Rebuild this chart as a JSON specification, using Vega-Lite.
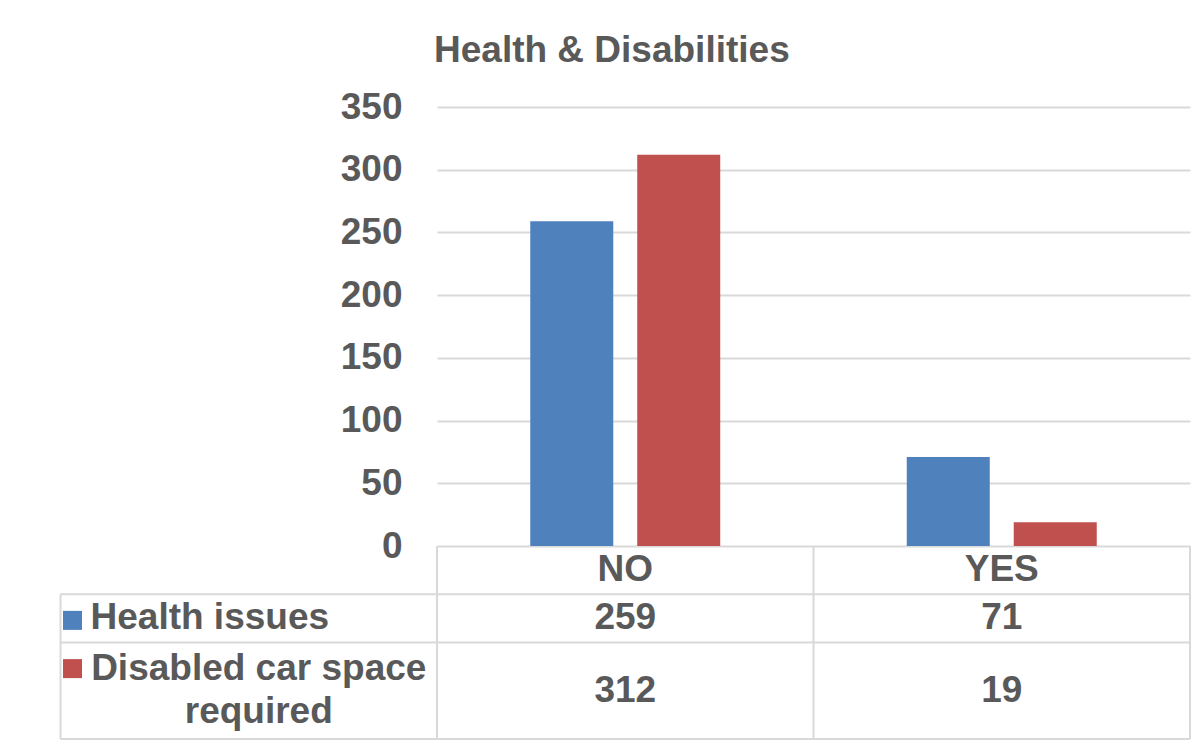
{
  "$schema": "https://vega.github.io/schema/vega-lite/v6.json",
  "width": 753,
  "height": 439,
  "autosize": {"type": "none"},
  "padding": {"left": 437, "top": 107, "right": 4, "bottom": 203},
  "background": "white",
  "title": {"text": "Health & Disabilities", "anchor": "start", "frame": "group", "font": "Liberation Sans", "fontSize": 37, "fontWeight": "bold", "color": "#595959", "offset": 18, "dx": -3},
  "config": {"view": {"stroke": null}},
  "data": {"values": [
    {"answer": "NO", "series": "Health issues", "count": 259},
    {"answer": "NO", "series": "Disabled car space required", "count": 312},
    {"answer": "YES", "series": "Health issues", "count": 71},
    {"answer": "YES", "series": "Disabled car space required", "count": 19}
  ]},
  "layer": [
    {
      "mark": {"type": "bar"},
      "encoding": {
        "x": {"field": "answer", "type": "nominal", "scale": {"domain": ["NO", "YES"], "paddingInner": 0.4954, "paddingOuter": 0.2477}, "axis": null},
        "xOffset": {"field": "series", "type": "nominal", "scale": {"domain": ["Health issues", "Disabled car space required"], "paddingInner": 0.224}},
        "y": {"field": "count", "type": "quantitative", "scale": {"domain": [0, 350]}, "axis": {"values": [0, 50, 100, 150, 200, 250, 300, 350], "title": null, "domain": false, "ticks": false, "labelPadding": 35, "labelFont": "Liberation Sans", "labelFontSize": 37, "labelFontWeight": "bold", "labelColor": "#595959", "grid": true, "gridColor": "#D9D9D9", "gridWidth": 2}},
        "color": {"field": "series", "type": "nominal", "scale": {"domain": ["Health issues", "Disabled car space required"], "range": ["#4F81BD", "#C0504D"]}, "legend": null}
      }
    },
    {
      "layer": [
        {
          "data": {"values": [
            {"row": "Health issues", "from": "label", "to": "after"},
            {"row": "Disabled car space required", "from": "label", "to": "after"},
            {"row": "end", "from": "label", "to": "after"}
          ]},
          "mark": {"type": "rule", "color": "#D9D9D9", "strokeWidth": 2},
          "encoding": {
            "x": {"field": "from", "type": "nominal", "bandPosition": 0, "scale": {"type": "band", "domain": ["label", "NO", "YES", "after"], "range": [-376.5, 1129.5], "paddingInner": 0, "paddingOuter": 0}, "axis": null},
            "x2": {"field": "to", "bandPosition": 0},
            "y": {"field": "row", "type": "nominal", "bandPosition": 0, "scale": {"type": "band", "domain": ["header", "Health issues", "Disabled car space required", "cont", "end"], "range": [439, 680.25], "paddingInner": 0, "paddingOuter": 0}, "axis": null}
          }
        },
        {
          "data": {"values": [
            {"col": "label", "top": "Health issues", "bottom": "end"},
            {"col": "NO", "top": "header", "bottom": "end"},
            {"col": "YES", "top": "header", "bottom": "end"},
            {"col": "after", "top": "header", "bottom": "end"}
          ]},
          "mark": {"type": "rule", "color": "#D9D9D9", "strokeWidth": 2},
          "encoding": {
            "x": {"field": "col", "type": "nominal", "bandPosition": 0, "axis": null},
            "y": {"field": "top", "type": "nominal", "bandPosition": 0, "axis": null},
            "y2": {"field": "bottom", "bandPosition": 0}
          }
        },
        {
          "transform": [{"filter": "datum.series === 'Health issues'"}],
          "mark": {"type": "text", "font": "Liberation Sans", "fontSize": 37, "fontWeight": "bold", "color": "#595959", "baseline": "middle", "align": "center"},
          "encoding": {
            "x": {"field": "answer", "type": "nominal", "bandPosition": 0.5, "axis": null},
            "y": {"datum": "header", "type": "nominal", "bandPosition": 0.5, "axis": null},
            "text": {"field": "answer"}
          }
        },
        {
          "transform": [{"filter": "datum.series === 'Health issues'"}],
          "mark": {"type": "text", "font": "Liberation Sans", "fontSize": 37, "fontWeight": "bold", "color": "#595959", "baseline": "middle", "align": "center"},
          "encoding": {
            "x": {"field": "answer", "type": "nominal", "bandPosition": 0.5, "axis": null},
            "y": {"field": "series", "type": "nominal", "bandPosition": 0.5, "axis": null},
            "text": {"field": "count", "type": "quantitative"}
          }
        },
        {
          "transform": [{"filter": "datum.series === 'Disabled car space required'"}],
          "mark": {"type": "text", "font": "Liberation Sans", "fontSize": 37, "fontWeight": "bold", "color": "#595959", "baseline": "middle", "align": "center"},
          "encoding": {
            "x": {"field": "answer", "type": "nominal", "bandPosition": 0.5, "axis": null},
            "y": {"field": "series", "type": "nominal", "bandPosition": 1, "axis": null},
            "text": {"field": "count", "type": "quantitative"}
          }
        },
        {
          "transform": [{"filter": "datum.answer === 'NO'"}],
          "mark": {"type": "square", "size": 361, "filled": true, "opacity": 1, "xOffset": 12, "yOffset": 2},
          "encoding": {
            "x": {"datum": "label", "type": "nominal", "bandPosition": 0, "axis": null},
            "y": {"field": "series", "type": "nominal", "bandPosition": 0.5, "axis": null},
            "color": {"field": "series", "type": "nominal", "legend": null}
          }
        },
        {
          "transform": [{"filter": "datum.answer === 'NO' && datum.series === 'Health issues'"}],
          "mark": {"type": "text", "font": "Liberation Sans", "fontSize": 37, "fontWeight": "bold", "color": "#595959", "baseline": "middle", "align": "left", "dx": 30},
          "encoding": {
            "x": {"datum": "label", "type": "nominal", "bandPosition": 0, "axis": null},
            "y": {"field": "series", "type": "nominal", "bandPosition": 0.5, "axis": null},
            "text": {"field": "series"}
          }
        },
        {
          "transform": [{"filter": "datum.answer === 'NO' && datum.series === 'Disabled car space required'"}],
          "mark": {"type": "text", "font": "Liberation Sans", "fontSize": 37, "fontWeight": "bold", "color": "#595959", "baseline": "middle", "align": "center", "dx": 10, "dy": -21.5, "lineHeight": 43},
          "encoding": {
            "x": {"datum": "label", "type": "nominal", "bandPosition": 0.5, "axis": null},
            "y": {"field": "series", "type": "nominal", "bandPosition": 1, "axis": null},
            "text": {"value": ["Disabled car space", "required"]}
          }
        }
      ]
    }
  ],
  "resolve": {"scale": {"x": "independent", "y": "independent"}}
}
